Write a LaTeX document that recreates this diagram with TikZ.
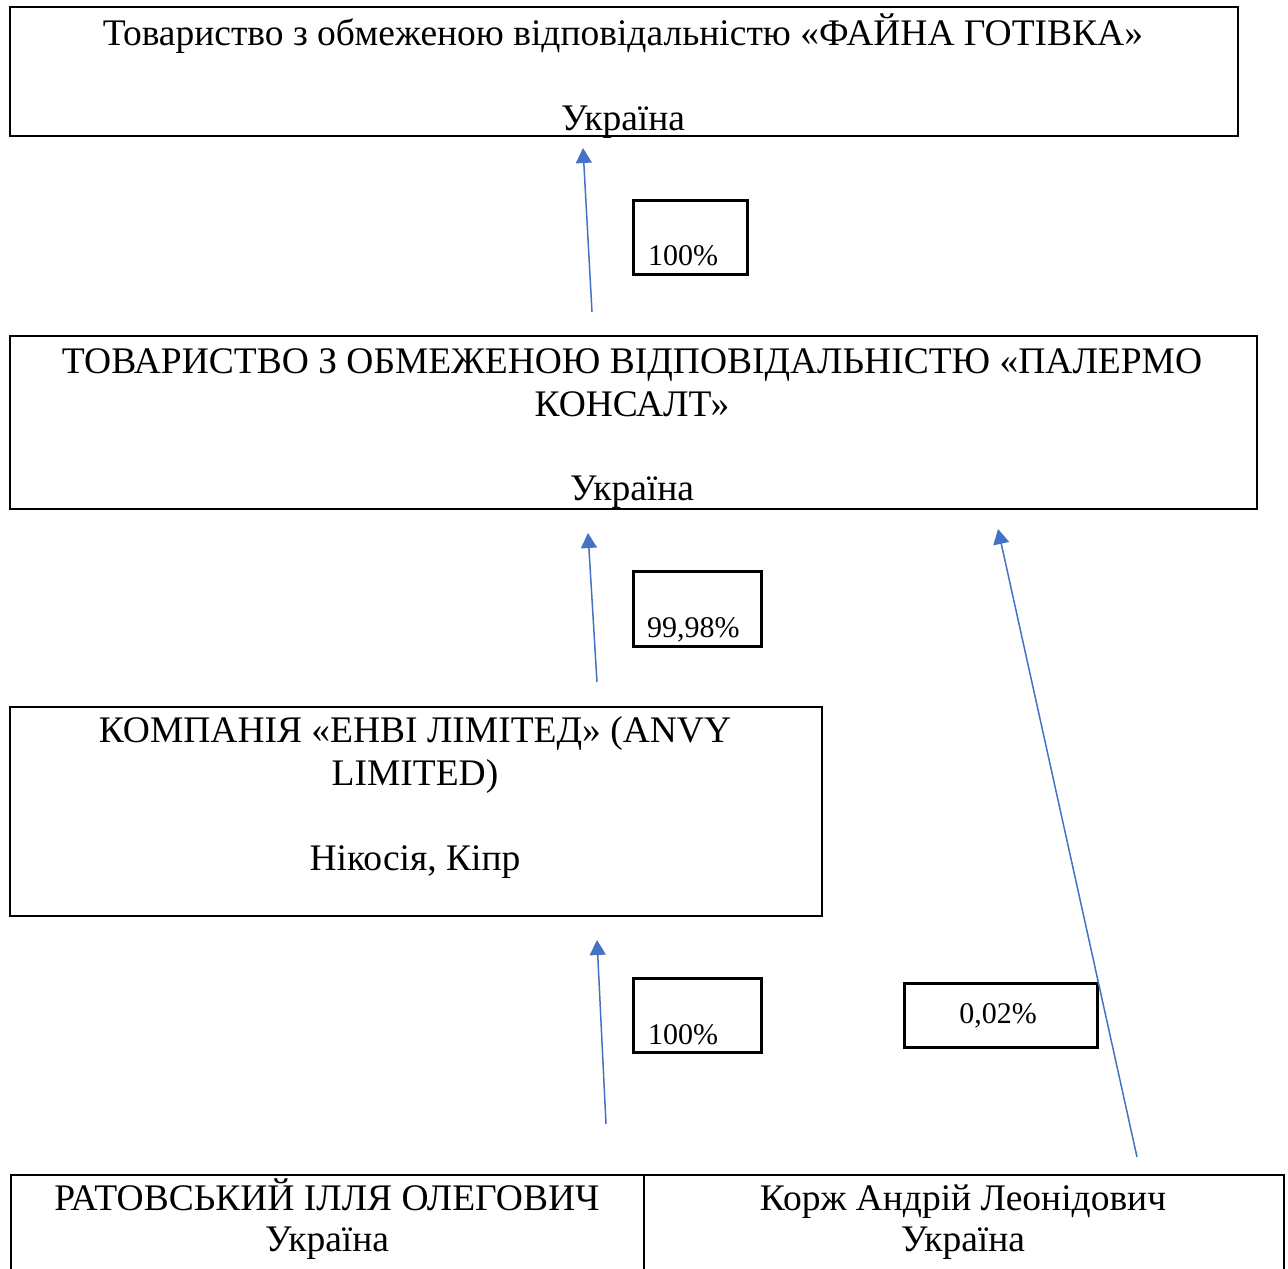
\documentclass[tikz,border=0pt]{standalone}
\usepackage{fontspec}
\setmainfont{Liberation Serif}
\usetikzlibrary{arrows.meta}
\definecolor{linkblue}{HTML}{4472C4}
\begin{document}
\begin{tikzpicture}[x=1pt,y=-1pt,
  frame/.style={draw=black,line width=2pt,inner sep=0pt,anchor=north west},
  pctframe/.style={draw=black,line width=2.5pt,inner sep=0pt,anchor=north west},
  txt/.style={font=\fontsize{37.5}{43}\selectfont,anchor=base,inner sep=0pt},
  pct/.style={font=\fontsize{30}{36}\selectfont,anchor=base west,inner sep=0pt},
  link/.style={draw=linkblue,line width=1.5pt,-{Triangle[length=15pt,width=16pt]}}]
\useasboundingbox (0,0) rectangle (1288,1269);
\fill[white] (0,0) rectangle (1288,1269);
% main boxes
\node[frame,minimum width=1228pt,minimum height=129pt] (b1) at (9,6) {};
\node[frame,minimum width=1247pt,minimum height=173pt] (b2) at (9,335) {};
\node[frame,minimum width=812pt,minimum height=209pt] (b3) at (9,706) {};
% bottom table cells
\node[frame,minimum width=633pt,minimum height=130pt] (c1) at (10,1174) {};
\node[frame,minimum width=640pt,minimum height=130pt] (c2) at (643,1174) {};
% percent boxes
\node[pctframe,minimum width=114pt,minimum height=74pt] (q1) at (632,199) {};
\node[pctframe,minimum width=128pt,minimum height=75pt] (q2) at (632,570) {};
\node[pctframe,minimum width=128pt,minimum height=74pt] (q3) at (632,977) {};
\node[pctframe,minimum width=193pt,minimum height=64pt] (q4) at (903,982) {};
% texts
\node[txt] (t1a) at (623,45) {Товариство з обмеженою відповідальністю «ФАЙНА ГОТІВКА»};
\node[txt] (t1b) at (623,130) {Україна};
\node[txt] (t2a) at (632,373) {ТОВАРИСТВО З ОБМЕЖЕНОЮ ВІДПОВІДАЛЬНІСТЮ «ПАЛЕРМО};
\node[txt] (t2b) at (632,416) {КОНСАЛТ»};
\node[txt] (t2c) at (632,500) {Україна};
\node[txt] (t3a) at (415,742) {КОМПАНІЯ «ЕНВІ ЛІМІТЕД» (ANVY};
\node[txt] (t3b) at (415,785) {LIMITED)};
\node[txt] (t3c) at (415,870) {Нікосія, Кіпр};
\node[txt] (t4a) at (327,1210) {РАТОВСЬКИЙ ІЛЛЯ ОЛЕГОВИЧ};
\node[txt] (t4b) at (327,1251) {Україна};
\node[txt] (t5a) at (963,1210) {Корж Андрій Леонідович};
\node[txt] (t5b) at (963,1251) {Україна};
\node[pct] (p1) at (648,265) {100\%};
\node[pct] (p2) at (647,637) {99,98\%};
\node[pct] (p3) at (648,1044) {100\%};
\node[pct,anchor=base] (p4) at (998,1023) {0,02\%};
% connectors
\coordinate (a1s) at (592,312);
\coordinate (a1e) at (583,148);
\coordinate (a2s) at (597,682);
\coordinate (a2e) at (588,533);
\coordinate (a3s) at (606,1124);
\coordinate (a3e) at (597,940);
\coordinate (a4s) at (1137,1157);
\coordinate (a4e) at (998,529);
\draw[link] (a1s) -- (a1e);
\draw[link] (a2s) -- (a2e);
\draw[link] (a3s) -- (a3e);
\draw[link] (a4s) -- (a4e);
\end{tikzpicture}
\end{document}
